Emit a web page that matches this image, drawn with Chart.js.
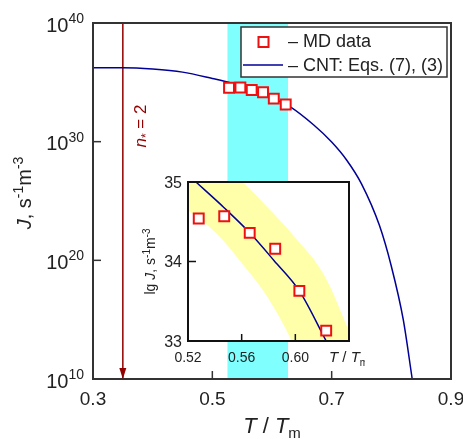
<!DOCTYPE html>
<html>
<head>
<meta charset="utf-8">
<script src="https://cdn.jsdelivr.net/npm/chart.js@4/dist/chart.umd.min.js"></script>
<style>
  html, body { margin: 0; padding: 0; background: #fff; }
  #wrap { position: relative; width: 463px; height: 439px; }
  #main { position: absolute; left: 0; top: 0; }
  #inset { position: absolute; left: 130px; top: 165px; }
</style>
</head>
<body>
<div id="wrap">
  <canvas id="main" width="463" height="439"></canvas>
  <canvas id="inset" width="235" height="210"></canvas>
</div>
<script>
// --- datos ---
// ejes principales
const xTicks = [0.3, 0.5, 0.7, 0.9]
const xTickLabels = ['0.3', '0.5', '0.7', '0.9']
const yTicks = [1e10, 1e20, 1e30, 1e40]
const yTickExp = ['10', '20', '30', '40']

// MD data (T/Tm, lg J)
const mdT = [0.528, 0.547, 0.566, 0.585, 0.603, 0.623]
const mdLgJ = [34.54, 34.57, 34.36, 34.16, 33.63, 33.13]

// curva CNT en el panel principal (T/Tm, lg J)
const cntT = [0.30, 0.35, 0.40, 0.45, 0.50, 0.53, 0.565, 0.60, 0.63, 0.67, 0.70, 0.725, 0.75, 0.78, 0.80, 0.82, 0.835]
const cntLgJ = [36.23, 36.23, 36.12, 35.86, 35.33, 34.97, 34.37, 33.68, 32.95, 31.4, 29.97, 28.46, 26.45, 22.95, 19.5, 15.0, 10.0]

// franja cian (rango MD) y flecha n* = 2
const bandT = [0.525, 0.627]
const arrowT = 0.35

// inset
const insetXTicks = [0.52, 0.56, 0.60, 0.64]
const insetXTickLabels = ['0.52', '0.56', '0.60', '']
const insetYTicks = [33, 34, 35]
const insetYTickLabels = ['33', '34', '35']
const insetCntT = [0.5259, 0.5467, 0.5655, 0.5842, 0.603, 0.623]
const insetCntLgJ = [35.0, 34.68, 34.37, 34.01, 33.63, 33.0]
const yellowT = [0.52, 0.54, 0.56, 0.58, 0.60, 0.62, 0.64]
const yellowUpper = [35.6, 35.3, 35.01, 34.67, 34.30, 33.87, 33.13]
const yellowLower = [34.64, 34.37, 33.98, 33.53, 32.9, 32.1, 31.2]

// --- estilos ---
const FONT = '"Liberation Sans", Arial, sans-serif'
const NAVY = '#000096'
const RED = '#ee1111'
const DARKRED = '#920000'
const CYAN = '#80ffff'
const YELLOW = '#ffffaa'

function font(size, italic) { return (italic ? 'italic ' : '') + size + 'px ' + FONT }

// texto con sub/superíndices: parts = [{t, s, i, dy}]
function rich(ctx, parts, x, y, align) {
  let w = 0
  parts.forEach(p => { ctx.font = font(p.s, p.i); p.w = ctx.measureText(p.t).width; w += p.w })
  let cx = align === 'center' ? x - w / 2 : align === 'right' ? x - w : x
  ctx.textAlign = 'left'
  ctx.textBaseline = 'alphabetic'
  parts.forEach(p => { ctx.font = font(p.s, p.i); ctx.fillText(p.t, cx, y + (p.dy || 0)); cx += p.w })
}

function seg(ctx, x1, y1, x2, y2) { ctx.beginPath(); ctx.moveTo(x1, y1); ctx.lineTo(x2, y2); ctx.stroke() }

const pts = (xs, ys) => xs.map((x, i) => ({ x, y: ys[i] }))

const hiddenAxis = (extra) => Object.assign({
  ticks: { display: false },
  grid: { display: false },
  border: { display: false },
}, extra)

// --- panel principal ---
const mainDecor = {
  id: 'mainDecor',
  afterDraw(chart) {
    const { ctx, chartArea: a, scales: { x, y } } = chart
    ctx.save()
    // marco
    ctx.strokeStyle = '#333'
    ctx.lineWidth = 2
    ctx.strokeRect(a.left, a.top, a.right - a.left, a.bottom - a.top)
    // ticks hacia dentro
    ctx.lineWidth = 1.5
    x.ticks.forEach(t => {
      const px = x.getPixelForValue(t.value)
      if (px > a.left + 2 && px < a.right - 2) seg(ctx, px, a.bottom, px, a.bottom - 8)
    })
    y.ticks.forEach(t => {
      const py = y.getPixelForValue(t.value)
      if (py > a.top + 2 && py < a.bottom - 2) seg(ctx, a.left, py, a.left + 8, py)
    })
    // etiquetas
    ctx.fillStyle = '#222'
    x.ticks.forEach((t, i) => {
      rich(ctx, [{ t: xTickLabels[i], s: 19 }], x.getPixelForValue(t.value), a.bottom + 26, 'center')
    })
    y.ticks.forEach((t, i) => {
      const py = y.getPixelForValue(t.value)
      rich(ctx, [{ t: '10', s: 20 }, { t: yTickExp[i], s: 14, dy: -8.5 }], a.left - 9, py + 8.5, 'right')
    })
    // títulos de ejes
    rich(ctx, [{ t: 'T', s: 22, i: true }, { t: ' / ', s: 22 }, { t: 'T', s: 22, i: true }, { t: 'm', s: 15, dy: 5 }],
      (a.left + a.right) / 2, a.bottom + 54, 'center')
    ctx.save()
    ctx.translate(a.left - 62, (a.top + a.bottom) / 2 - 8)
    ctx.rotate(-Math.PI / 2)
    rich(ctx, [{ t: 'J', s: 20, i: true }, { t: ', s', s: 20 }, { t: '-1', s: 14, dy: -8 }, { t: 'm', s: 20 }, { t: '-3', s: 14, dy: -8 }], 0, 0, 'center')
    ctx.restore()

    // punta de flecha n* = 2
    const ax = x.getPixelForValue(arrowT)
    ctx.fillStyle = DARKRED
    ctx.beginPath()
    ctx.moveTo(ax, a.bottom)
    ctx.lineTo(ax - 3.5, a.bottom - 11)
    ctx.lineTo(ax + 3.5, a.bottom - 11)
    ctx.closePath()
    ctx.fill()
    ctx.save()
    ctx.translate(ax + 23, 126)
    ctx.rotate(-Math.PI / 2)
    rich(ctx, [{ t: 'n', s: 17, i: true }, { t: '*', s: 12, dy: 4 }, { t: ' = 2', s: 17 }], 0, 0, 'center')
    ctx.restore()

    // leyenda
    ctx.fillStyle = '#fff'
    ctx.fillRect(241, 27, 206, 50)
    ctx.strokeStyle = '#333'
    ctx.lineWidth = 1.5
    ctx.strokeRect(241, 27, 206, 50)
    ctx.fillStyle = '#fff'
    ctx.strokeStyle = RED
    ctx.lineWidth = 2
    ctx.fillRect(258.5, 37, 10, 10)
    ctx.strokeRect(258.5, 37, 10, 10)
    ctx.strokeStyle = NAVY
    ctx.lineWidth = 1.5
    seg(ctx, 243, 65, 283, 65)
    ctx.fillStyle = '#222'
    rich(ctx, [{ t: '\u2013 MD data', s: 18 }], 288, 47, 'left')
    rich(ctx, [{ t: '\u2013 CNT: Eqs. (7), (3)', s: 18 }], 288, 71, 'left')
    ctx.restore()
  }
}

new Chart(document.getElementById('main'), {
  type: 'line',
  data: {
    datasets: [
      {
        data: pts(mdT, mdLgJ.map(v => 10 ** v)),
        showLine: false,
        pointStyle: 'rect',
        pointRadius: 7,
        pointBorderWidth: 2,
        pointBorderColor: RED,
        pointBackgroundColor: '#fff',
      },
      {
        data: pts(cntT, cntLgJ.map(v => 10 ** v)),
        borderColor: NAVY,
        borderWidth: 1.5,
        pointRadius: 0,
        cubicInterpolationMode: 'monotone',
      },
      {
        data: [{ x: arrowT, y: 1e40 }, { x: arrowT, y: 1e10 }],
        borderColor: DARKRED,
        borderWidth: 1.5,
        pointRadius: 0,
      },
      {
        data: bandT.map(t => ({ x: t, y: 1e40 })),
        borderWidth: 0,
        pointRadius: 0,
        fill: 'start',
        backgroundColor: CYAN,
      },
    ]
  },
  options: {
    responsive: false,
    animation: false,
    events: [],
    layout: { padding: { left: 93, top: 23, right: 12, bottom: 60 } },
    plugins: { legend: { display: false }, tooltip: { enabled: false } },
    scales: {
      x: hiddenAxis({
        type: 'linear', min: 0.3, max: 0.9,
        afterBuildTicks: s => { s.ticks = xTicks.map(value => ({ value })) },
        afterFit: s => { s.height = 0 },
      }),
      y: hiddenAxis({
        type: 'logarithmic', min: 1e10, max: 1e40,
        afterBuildTicks: s => { s.ticks = yTicks.map(value => ({ value })) },
        afterFit: s => { s.width = 0 },
      }),
    }
  },
  plugins: [mainDecor]
})

// --- inset ---
const insetDecor = {
  id: 'insetDecor',
  beforeDraw(chart) {
    const { ctx, chartArea: a } = chart
    ctx.save()
    ctx.fillStyle = '#fff'
    ctx.fillRect(a.left, a.top, a.right - a.left, a.bottom - a.top)
    ctx.restore()
  },
  afterDraw(chart) {
    const { ctx, chartArea: a, scales: { x, y } } = chart
    ctx.save()
    ctx.strokeStyle = '#111'
    ctx.lineWidth = 2
    ctx.strokeRect(a.left, a.top, a.right - a.left, a.bottom - a.top)
    ctx.lineWidth = 1.5
    x.ticks.forEach(t => {
      const px = x.getPixelForValue(t.value)
      if (px > a.left + 2 && px < a.right - 2) seg(ctx, px, a.bottom, px, a.bottom - 7)
    })
    y.ticks.forEach(t => {
      const py = y.getPixelForValue(t.value)
      if (py > a.top + 2 && py < a.bottom - 2) seg(ctx, a.left, py, a.left + 8, py)
    })
    ctx.fillStyle = '#222'
    x.ticks.forEach((t, i) => {
      if (insetXTickLabels[i]) rich(ctx, [{ t: insetXTickLabels[i], s: 14 }], x.getPixelForValue(t.value), a.bottom + 21, 'center')
    })
    y.ticks.forEach((t, i) => {
      rich(ctx, [{ t: insetYTickLabels[i], s: 16 }], a.left - 6, y.getPixelForValue(t.value) + 5.5, 'right')
    })
    rich(ctx, [{ t: 'T', s: 15, i: true }, { t: ' / ', s: 15 }, { t: 'T', s: 15, i: true }, { t: 'm', s: 10, dy: 4 }],
      a.right - 20, a.bottom + 21, 'left')
    ctx.translate(a.left - 33, (a.top + a.bottom) / 2)
    ctx.rotate(-Math.PI / 2)
    rich(ctx, [{ t: 'lg ', s: 14 }, { t: 'J', s: 14, i: true }, { t: ', s', s: 14 }, { t: '-1', s: 10, dy: -5 },
      { t: 'm', s: 14 }, { t: '-3', s: 10, dy: -5 }], 0, 0, 'center')
    ctx.restore()
  }
}

new Chart(document.getElementById('inset'), {
  type: 'line',
  data: {
    datasets: [
      {
        data: pts(mdT, mdLgJ),
        showLine: false,
        pointStyle: 'rect',
        pointRadius: 7,
        pointBorderWidth: 2,
        pointBorderColor: RED,
        pointBackgroundColor: '#fff',
      },
      {
        data: pts(insetCntT, insetCntLgJ),
        borderColor: NAVY,
        borderWidth: 1.5,
        pointRadius: 0,
        cubicInterpolationMode: 'monotone',
      },
      {
        data: pts(yellowT, yellowUpper),
        borderWidth: 0,
        pointRadius: 0,
        tension: 0.4,
        fill: '+1',
        backgroundColor: YELLOW,
      },
      {
        data: pts(yellowT, yellowLower),
        borderWidth: 0,
        pointRadius: 0,
        tension: 0.4,
      },
    ]
  },
  options: {
    responsive: false,
    animation: false,
    events: [],
    layout: { padding: { left: 58, top: 17, right: 16, bottom: 34 } },
    plugins: { legend: { display: false }, tooltip: { enabled: false } },
    scales: {
      x: hiddenAxis({
        type: 'linear', min: 0.52, max: 0.64,
        afterBuildTicks: s => { s.ticks = insetXTicks.map(value => ({ value })) },
        afterFit: s => { s.height = 0 },
      }),
      y: hiddenAxis({
        type: 'linear', min: 33, max: 35,
        afterBuildTicks: s => { s.ticks = insetYTicks.map(value => ({ value })) },
        afterFit: s => { s.width = 0 },
      }),
    }
  },
  plugins: [insetDecor]
})
</script>
</body>
</html>
